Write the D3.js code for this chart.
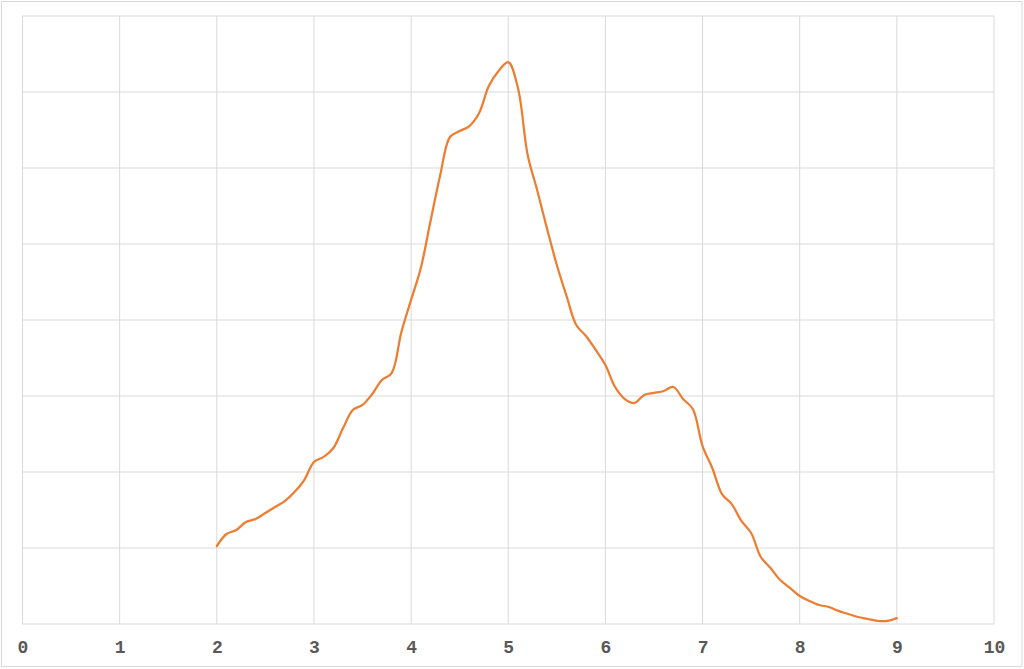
<!DOCTYPE html>
<html>
<head>
<meta charset="utf-8">
<script src="https://cdn.jsdelivr.net/npm/d3@7"></script>
<style>
  body { margin: 0; background: #fff; }
  #wrapper { width: 1024px; height: 669px; }
  .x-axis text { font-family: "Liberation Mono", monospace; font-weight: bold; font-size: 18px; fill: #595959; }
</style>
</head>
<body>
<div id="wrapper"></div>
<script>
// data: x values and smoothed density
const xValues = [
  2.0, 2.1, 2.2, 2.3, 2.4, 2.5, 2.6, 2.7, 2.8, 2.9,
  3.0, 3.1, 3.2, 3.3, 3.4, 3.5, 3.6, 3.7, 3.8, 3.9,
  4.0, 4.1, 4.2, 4.3, 4.4, 4.5, 4.6, 4.7, 4.8, 4.9,
  5.0, 5.1, 5.2, 5.3, 5.4, 5.5, 5.6, 5.7, 5.8, 5.9,
  6.0, 6.1, 6.2, 6.3, 6.4, 6.5, 6.6, 6.7, 6.8, 6.9,
  7.0, 7.1, 7.2, 7.3, 7.4, 7.5, 7.6, 7.7, 7.8, 7.9,
  8.0, 8.1, 8.2, 8.3, 8.4, 8.5, 8.6, 8.7, 8.8, 8.9,
  9.0,
];
const densityValues = [
  0.0513, 0.0592, 0.0618, 0.0671, 0.0691, 0.0730, 0.0770, 0.0809, 0.0868, 0.0947,
  0.1066, 0.1099, 0.1158, 0.1289, 0.1408, 0.1441, 0.1513, 0.1605, 0.1651, 0.1921,
  0.2132, 0.2342, 0.2651, 0.2954, 0.3204, 0.3243, 0.3276, 0.3362, 0.3539, 0.3638,
  0.3697, 0.3526, 0.3086, 0.2849, 0.2599, 0.2362, 0.2158, 0.1967, 0.1895, 0.1803,
  0.1704, 0.1559, 0.1480, 0.1454, 0.1507, 0.1520, 0.1533, 0.1559, 0.1480, 0.1414,
  0.1171, 0.1026, 0.0855, 0.0789, 0.0678, 0.0599, 0.0441, 0.0368, 0.0289, 0.0237,
  0.0184, 0.0151, 0.0125, 0.0112, 0.0086, 0.0066, 0.0046, 0.0033, 0.0020, 0.0020,
  0.0039,
];
const xTicks = [0, 1, 2, 3, 4, 5, 6, 7, 8, 9, 10];
const yTicks = [0, 0.05, 0.1, 0.15, 0.2, 0.25, 0.3, 0.35, 0.4];

const dataset = xValues.map((x, i) => ({ x, y: densityValues[i] }));
const xAccessor = (d) => d.x;
const yAccessor = (d) => d.y;

const dimensions = {
  width: 1024,
  height: 669,
  margin: { top: 16, right: 30, bottom: 45, left: 22.5 },
};
dimensions.boundedWidth = dimensions.width - dimensions.margin.left - dimensions.margin.right;
dimensions.boundedHeight = dimensions.height - dimensions.margin.top - dimensions.margin.bottom;

const wrapper = d3.select("#wrapper")
  .append("svg")
  .attr("width", dimensions.width)
  .attr("height", dimensions.height);

// outer frame
wrapper.append("rect")
  .attr("x", 1.5).attr("y", 1.5)
  .attr("width", dimensions.width - 3.5)
  .attr("height", dimensions.height - 4)
  .attr("fill", "#fff")
  .attr("stroke", "#d9d9d9");

const bounds = wrapper.append("g")
  .attr("transform", `translate(${dimensions.margin.left}, ${dimensions.margin.top})`);

const xScale = d3.scaleLinear()
  .domain([0, 10])
  .range([0, dimensions.boundedWidth]);
const yScale = d3.scaleLinear()
  .domain([0, 0.4])
  .range([dimensions.boundedHeight, 0]);

// gridlines
bounds.append("g")
  .selectAll("line")
  .data(yTicks)
  .join("line")
  .attr("x1", 0).attr("x2", dimensions.boundedWidth)
  .attr("y1", (d) => yScale(d)).attr("y2", (d) => yScale(d))
  .attr("stroke", "#d9d9d9").attr("stroke-width", 1);
bounds.append("g")
  .selectAll("line")
  .data(xTicks)
  .join("line")
  .attr("x1", (d) => xScale(d)).attr("x2", (d) => xScale(d))
  .attr("y1", 0).attr("y2", dimensions.boundedHeight)
  .attr("stroke", "#d9d9d9").attr("stroke-width", 1);

// x axis labels
const xAxisGenerator = d3.axisBottom(xScale).tickValues(xTicks).tickSize(0).tickPadding(16);
const xAxis = bounds.append("g")
  .attr("class", "x-axis")
  .attr("transform", `translate(0, ${dimensions.boundedHeight})`)
  .call(xAxisGenerator);
xAxis.select(".domain").remove();
xAxis.selectAll("text").attr("font-family", null).attr("font-size", null);

// the line
const lineGenerator = d3.line()
  .x((d) => xScale(xAccessor(d)))
  .y((d) => yScale(yAccessor(d)))
  .curve(d3.curveCatmullRom.alpha(0.5));

bounds.append("path")
  .datum(dataset)
  .attr("d", lineGenerator)
  .attr("fill", "none")
  .attr("stroke", "#ed7d31")
  .attr("stroke-width", 2.25)
  .attr("stroke-linejoin", "round")
  .attr("stroke-linecap", "round");
</script>
</body>
</html>
